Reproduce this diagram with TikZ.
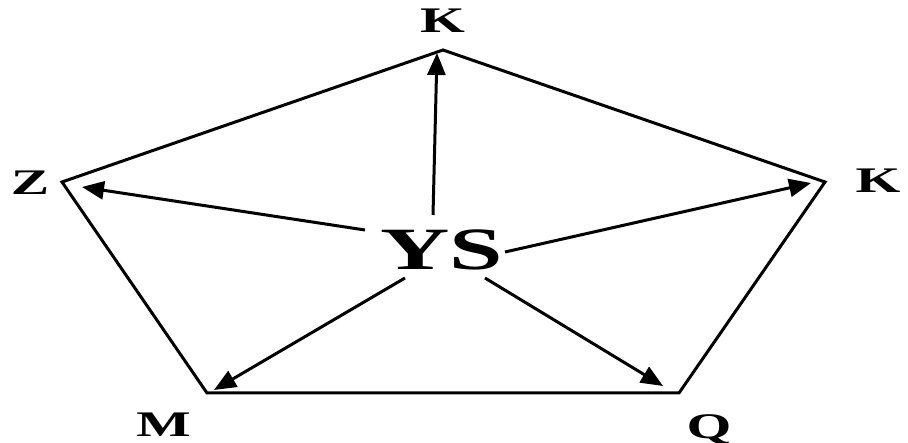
\documentclass[tikz,border=0pt]{standalone}
\usepackage{fontspec}
\setmainfont{Liberation Serif}
\newfontfamily\tbold{Liberation Serif Bold}
\usetikzlibrary{arrows.meta}
\newcommand{\wide}[1]{\scalebox{1.6}[1]{#1}}
\begin{document}
\begin{tikzpicture}[x=1pt,y=-1pt,
  edge/.style={line width=3pt, line join=miter},
  arr/.style={line width=3pt, -{Triangle[length=22pt,width=18pt]}},
  lbl/.style={font=\tbold\fontsize{36}{38}\selectfont, inner sep=0pt, anchor=base},
  ctr/.style={font=\tbold\fontsize{60}{62}\selectfont, inner sep=0pt, anchor=base}]
\useasboundingbox (0,0) rectangle (908,443);
% pentagon vertices
\coordinate (vT) at (443,50);
\coordinate (vR) at (825,182);
\coordinate (vBR) at (679,393);
\coordinate (vBL) at (207,393);
\coordinate (vL) at (62,182);
\draw[edge] (vT) -- (vR) -- (vBR) -- (vBL) -- (vL) -- cycle;
% labels
\node[lbl] (kT) at (442.5,33) {\wide{K}};
\node[lbl] (kR) at (878,193) {\wide{K}};
\node[lbl] (z) at (30,195) {\wide{Z}};
\node[lbl] (m) at (163.5,437) {\wide{M}};
\node[lbl] (q) at (709,439) {\wide{Q}};
\node[ctr] (ys) at (441.5,270) {\wide{YS}};
% arrow starts and tips
\coordinate (sT) at (433,215);
\coordinate (tT) at (437,53);
\coordinate (sL) at (365,230);
\coordinate (tL) at (82,187);
\coordinate (sR) at (505,252);
\coordinate (tR) at (811,183);
\coordinate (sBL) at (405,278);
\coordinate (tBL) at (214,390);
\coordinate (sBR) at (485,278);
\coordinate (tBR) at (663,386);
\draw[arr] (sT) -- (tT);
\draw[arr] (sL) -- (tL);
\draw[arr] (sR) -- (tR);
\draw[arr] (sBL) -- (tBL);
\draw[arr] (sBR) -- (tBR);
\end{tikzpicture}
\end{document}
